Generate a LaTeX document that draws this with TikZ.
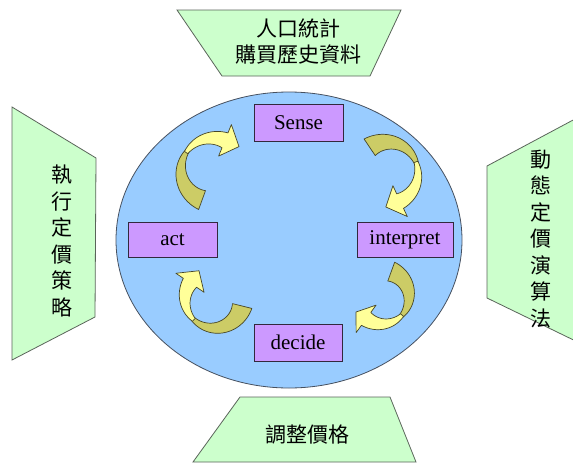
\documentclass[tikz,border=0pt]{standalone}
\usepackage{fontspec}
\usetikzlibrary{shapes.geometric}
\setmainfont{Liberation Serif}
\newfontfamily\cjk{Noto Sans CJK TC}
\definecolor{greenfill}{RGB}{204,255,204}
\definecolor{greenline}{RGB}{90,100,90}
\definecolor{bluefill}{RGB}{153,204,255}
\definecolor{blueline}{RGB}{70,80,95}
\definecolor{purplefill}{RGB}{204,153,255}
\definecolor{purpleline}{RGB}{50,40,60}
\definecolor{yellight}{RGB}{255,255,153}
\definecolor{yeldark}{RGB}{204,204,102}
\definecolor{yelline}{RGB}{70,70,40}
\tikzset{
  greenshape/.style={fill=greenfill, draw=greenline, line width=0.8pt, line join=miter},
  cyclebox/.style={rectangle, fill=purplefill, draw=purpleline, line width=0.8pt, inner sep=0pt, font=\fontsize{21}{24}\selectfont},
  cjklabel/.style={font=\cjk\fontsize{21}{26}\selectfont, align=center, inner sep=0pt},
  vlabel/.style={font=\cjk\fontsize{21}{26.5}\selectfont, align=center, inner sep=0pt},
  darkpart/.style={fill=yeldark, draw=yelline, line width=0.7pt, line join=round},
  lightpart/.style={fill=yellight, draw=yelline, line width=0.7pt, line join=round},
}
% cx, cy, R, tail angle, twist angle, head-base angle, tip angle
\newcommand{\cyclearrow}[7]{%
  \filldraw[darkpart] plot[domain=#4:#5, samples=30] ({#1+(#3+2+8*(#5-\x)/(#5-#4))*cos(\x)},{#2+(#3+2+8*(#5-\x)/(#5-#4))*sin(\x)})
     -- plot[domain=#5:#4, samples=30] ({#1+(#3-2-8*(#5-\x)/(#5-#4))*cos(\x)},{#2+(#3-2-8*(#5-\x)/(#5-#4))*sin(\x)}) -- cycle;
  \filldraw[lightpart] plot[domain=#5-4:#6, samples=30] ({#1+(#3+2+6*(\x-#5+4)/(#6-#5+4))*cos(\x)},{#2+(#3+2+6*(\x-#5+4)/(#6-#5+4))*sin(\x)})
     -- ({#1+(#3+17)*cos(#6)},{#2+(#3+17)*sin(#6)})
     -- ({#1+(#3+3)*cos(#7)},{#2+(#3+3)*sin(#7)})
     -- ({#1+(#3-17)*cos(#6)},{#2+(#3-17)*sin(#6)})
     -- plot[domain=#6:#5-4, samples=30] ({#1+(#3-2-6*(\x-#5+4)/(#6-#5+4))*cos(\x)},{#2+(#3-2-6*(\x-#5+4)/(#6-#5+4))*sin(\x)}) -- cycle;
}
\begin{document}
\begin{tikzpicture}[x=1pt,y=-1pt]
\useasboundingbox (0,0) rectangle (573,466);
% outer trapezoids
\filldraw[greenshape] (177,10) -- (401,10) -- (370,76) -- (222,76) -- cycle;
\filldraw[greenshape] (12,107) -- (96,158) -- (95,317) -- (12,360) -- cycle;
\filldraw[greenshape] (487,166) -- (590,111) -- (590,348) -- (487,298) -- cycle;
\filldraw[greenshape] (240,397) -- (390,397) -- (416,462) -- (193,462) -- cycle;
\node[cjklabel] (top) at (298,42) {人口統計\\購買歷史資料};
\node[vlabel] (left) at (62,241) {執\\行\\定\\價\\策\\略};
\node[vlabel] (right) at (541,239) {動\\態\\定\\價\\演\\算\\法};
\node[cjklabel] (bottom) at (307,435) {調整價格};
% ellipse
\node[ellipse, minimum width=346pt, minimum height=296pt, fill=bluefill, draw=blueline, line width=0.8pt] (cyc) at (289,240) {};
% arrows
\cyclearrow{213}{170}{32}{110}{217}{292}{318}
\cyclearrow{387}{173}{31}{236}{343}{425}{452}
\cyclearrow{382}{297}{27}{290}{406}{486}{510}
\cyclearrow{214}{299}{29}{14}{138}{214}{242}
% boxes
\node[cyclebox, minimum width=89pt, minimum height=37pt] (sense) at (298.5,122.5) {Sense};
\node[cyclebox, minimum width=89pt, minimum height=35pt] (act) at (172.5,239.5) {act};
\node[cyclebox, minimum width=96pt, minimum height=35pt] (interp) at (405,239.5) {interpret};
\node[cyclebox, minimum width=88pt, minimum height=37pt] (decide) at (298,342.5) {decide};
\end{tikzpicture}
\end{document}
